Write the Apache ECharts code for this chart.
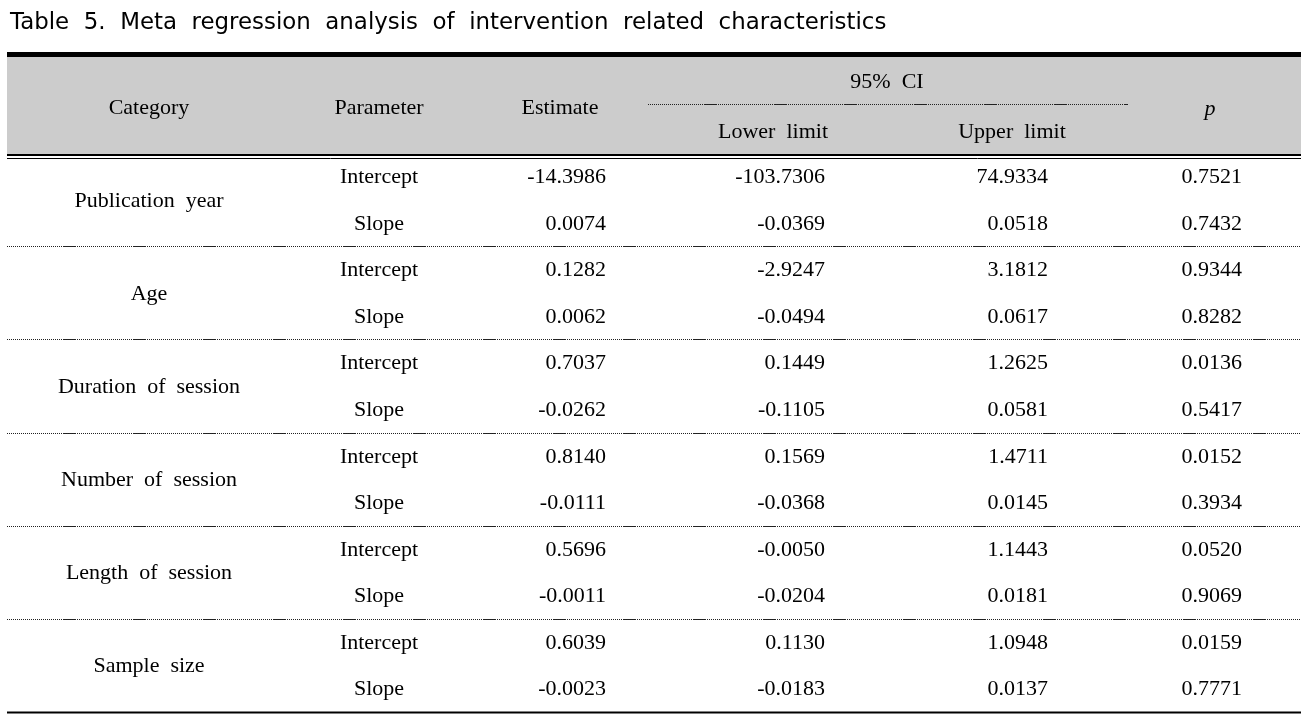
<!DOCTYPE html>
<html>
<head>
<meta charset="utf-8">
<script src="https://cdn.jsdelivr.net/npm/echarts@6/dist/echarts.min.js"></script>
<style>html,body{margin:0;padding:0;background:#fff}#c{width:1308px;height:720px}</style>
</head>
<body>
<div id="c"></div>
<script>
// ---------- data ----------
const titleText = 'Table  5.  Meta  regression  analysis  of  intervention  related  characteristics';
const headerLabels = ['Category', 'Parameter', 'Estimate', '95%  CI', 'Lower  limit', 'Upper  limit', 'p'];
const categories = ['Publication  year', 'Age', 'Duration  of  session', 'Number  of  session', 'Length  of  session', 'Sample  size'];
const parameters = ['Intercept', 'Slope'];
const estimate   = [-14.3986, 0.0074, 0.1282, 0.0062, 0.7037, -0.0262, 0.8140, -0.0111, 0.5696, -0.0011, 0.6039, -0.0023];
const lowerLimit = [-103.7306, -0.0369, -2.9247, -0.0494, 0.1449, -0.1105, 0.1569, -0.0368, -0.0050, -0.0204, 0.1130, -0.0183];
const upperLimit = [74.9334, 0.0518, 3.1812, 0.0617, 1.2625, 0.0581, 1.4711, 0.0145, 1.1443, 0.0181, 1.0948, 0.0137];
const pValues    = [0.7521, 0.7432, 0.9344, 0.8282, 0.0136, 0.5417, 0.0152, 0.3934, 0.0520, 0.9069, 0.0159, 0.7771];

// ---------- layout (not data) ----------
const colAnchor = { category: 149, parameter: 379, estimate: 606, lower: 825, upper: 1048, p: 1242 };
const tableLeft = 7, tableRight = 1301;
const serif = '"Liberation Serif", "Times New Roman", serif';
const bodyFont = '22px ' + serif;
const textDy = 1;

// dotted pattern: fine dots with a short dash
const dotDash = [];
for (let i = 0; i < 28; i++) { dotDash.push(1, 1); }
dotDash.push(13, 1);

// ---------- build cells ----------
const cells = [];
const fmt = v => v.toFixed(4);
for (let r = 0; r < estimate.length; r++) {
  cells.push({ x: colAnchor.parameter, y: r, text: parameters[r % 2], align: 'center' });
  cells.push({ x: colAnchor.estimate, y: r, text: fmt(estimate[r]), align: 'right' });
  cells.push({ x: colAnchor.lower, y: r, text: fmt(lowerLimit[r]), align: 'right' });
  cells.push({ x: colAnchor.upper, y: r, text: fmt(upperLimit[r]), align: 'right' });
  cells.push({ x: colAnchor.p, y: r, text: fmt(pValues[r]), align: 'right' });
}
categories.forEach((c, k) => {
  cells.push({ x: colAnchor.category, y: 2 * k + 0.5, text: c, align: 'center' });
});

// separators between groups (row units), last one is the bottom rule
const separators = [];
categories.forEach((c, k) => separators.push({ y: 2 * k + 1.5, solid: k === categories.length - 1 }));

const chart = echarts.init(document.getElementById('c'), null, { renderer: 'canvas' });

function headerText(x, y, text, italic) {
  return {
    type: 'text', x: x, y: y, z: 2,
    style: { text: text, font: (italic ? 'italic ' : '') + bodyFont, fill: '#000', align: 'center', verticalAlign: 'middle' }
  };
}

const option = {
  backgroundColor: '#ffffff',
  animation: false,
  title: {
    text: titleText,
    left: 10,
    top: 12,
    padding: 0,
    textStyle: { fontFamily: '"DejaVu Sans", sans-serif', fontSize: 22.9, fontWeight: 'normal', color: '#000' }
  },
  grid: { left: 0, right: 0, top: 176.5, bottom: 31.5, containLabel: false },
  xAxis: { type: 'value', min: 0, max: 1308, show: false },
  yAxis: { type: 'value', min: 0, max: 11, inverse: true, show: false },
  graphic: [
    { type: 'rect', shape: { x: tableLeft, y: 57, width: tableRight - tableLeft, height: 97 }, style: { fill: '#cccccc' }, z: 0 },
    { type: 'rect', shape: { x: tableLeft, y: 52, width: tableRight - tableLeft, height: 5 }, style: { fill: '#000' }, z: 1 },
    { type: 'line', shape: { x1: tableLeft, y1: 155, x2: tableRight, y2: 155 }, style: { stroke: '#000', lineWidth: 2 }, z: 1 },
    { type: 'line', shape: { x1: tableLeft, y1: 158.5, x2: tableRight, y2: 158.5 }, style: { stroke: '#000', lineWidth: 1 }, z: 1 },
    { type: 'line', shape: { x1: 648, y1: 104.5, x2: 1128, y2: 104.5 }, style: { stroke: '#222', lineWidth: 1, lineDash: dotDash }, z: 1 },
    headerText(149, 108, headerLabels[0]),
    headerText(379, 108, headerLabels[1]),
    headerText(560, 108, headerLabels[2]),
    headerText(887, 82, headerLabels[3]),
    headerText(773, 132, headerLabels[4]),
    headerText(1012, 132, headerLabels[5]),
    headerText(1210, 109, headerLabels[6], true)
  ],
  series: [
    {
      type: 'custom',
      name: 'cells',
      clip: false,
      silent: true,
      data: cells.map(c => [c.x, c.y]),
      renderItem: function (params, api) {
        const c = cells[params.dataIndex];
        const pt = api.coord([api.value(0), api.value(1)]);
        return {
          type: 'text',
          x: pt[0],
          y: pt[1] + textDy,
          style: { text: c.text, font: bodyFont, fill: '#000', align: c.align, verticalAlign: 'middle' }
        };
      }
    },
    {
      type: 'custom',
      name: 'rules',
      clip: false,
      silent: true,
      data: separators.map(s => [s.y]),
      renderItem: function (params, api) {
        const s = separators[params.dataIndex];
        const p1 = api.coord([tableLeft, api.value(0)]);
        const p2 = api.coord([tableRight, api.value(0)]);
        const y = Math.round(p1[1]) + 0.5;
        return {
          type: 'line',
          shape: { x1: p1[0], y1: y, x2: p2[0], y2: y },
          style: s.solid ? { stroke: '#000', lineWidth: 2 } : { stroke: '#222', lineWidth: 1, lineDash: dotDash }
        };
      }
    }
  ]
};
chart.setOption(option);
</script>
</body>
</html>
